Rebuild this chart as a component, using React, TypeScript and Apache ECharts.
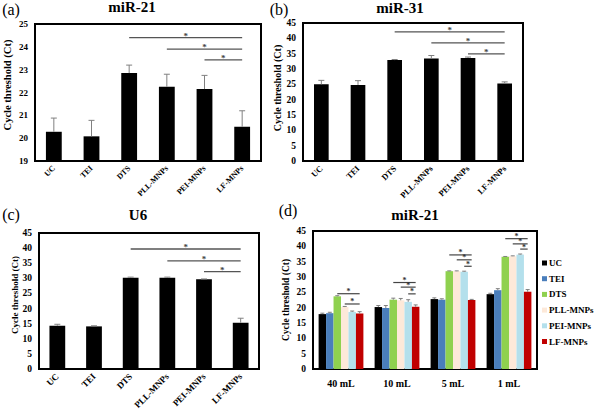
import React, { useEffect, useRef } from "react";
import * as echarts from "echarts";

// ---------- data ----------
const treatments = ["UC", "TEI", "DTS", "PLL-MNPs", "PEI-MNPs", "LF-MNPs"];

// (a) miR-21
const miR21Values = [20.28, 20.08, 22.85, 22.25, 22.15, 20.5];
const miR21Errors = [0.6, 0.7, 0.35, 0.55, 0.6, 0.7];
// (b) miR-31
const miR31Values = [25.0, 24.8, 32.9, 33.4, 33.6, 25.3];
const miR31Errors = [1.3, 1.4, 0.2, 1.0, 0.3, 0.5];
// (c) U6
const u6Values = [14.3, 14.1, 30.2, 30.2, 29.7, 15.3];
const u6Errors = [0.5, 0.2, 0.2, 0.2, 0.1, 1.5];

// (d) miR-21 by volume
const volumes = ["40 mL", "10 mL", "5 mL", "1 mL"];
const dUC = [17.9, 20.2, 22.8, 24.4];
const dTEI = [18.2, 19.9, 22.6, 25.7];
const dDTS = [23.7, 22.6, 31.9, 36.6];
const dPLL = [20.2, 22.4, 31.9, 36.8];
const dPEI = [18.6, 21.9, 31.7, 37.3];
const dLF = [18.1, 20.3, 22.5, 25.2];
const dUCErr = [0.3, 0.5, 0.4, 0.3];
const dTEIErr = [0.3, 0.8, 0.3, 0.5];
const dDTSErr = [0.2, 0.5, 0.1, 0.1];
const dPLLErr = [0.2, 0.6, 0.1, 0.1];
const dPEIErr = [0.3, 0.7, 0.2, 0.2];
const dLFErr = [0.6, 0.6, 0.2, 0.7];

// significance brackets: [fromIndex, toIndex, yValue]
const sigA = [[2, 5, 24.4], [3, 5, 23.9], [4, 5, 23.43]];
const sigB = [[2, 5, 42.1], [3, 5, 38.5], [4, 5, 34.9]];
const sigC = [[2, 5, 39.7], [3, 5, 35.8], [4, 5, 32.2]];
// (d): [volumeIndex, fromTreatment, toTreatment, yValue]
const sigD = [
  [0, 2, 5, 24.55], [0, 3, 5, 21.2],
  [1, 2, 5, 28.2], [1, 3, 5, 26.7], [1, 4, 5, 24.5],
  [2, 2, 5, 37.2], [2, 3, 5, 35.6], [2, 4, 5, 33.5],
  [3, 2, 5, 42.5], [3, 3, 5, 40.8], [3, 4, 5, 39.1],
];

const yTicksA = [19, 20, 21, 22, 23, 24, 25];
const yTicksB = [0, 5, 10, 15, 20, 25, 30, 35, 40, 45];

const dColors = ["#000000", "#4a7ebb", "#8fd14f", "#fde9d9", "#b4e0ec", "#c00000"];

const SERIF = "'Liberation Serif', 'Times New Roman', serif";

export default function App() {
  const ref = useRef<HTMLDivElement>(null);
  useEffect(() => {
    document.body.style.margin = "0";
    if (!ref.current) return;
    const chart = echarts.init(ref.current, null, { renderer: "svg" });

    const dValues = [dUC, dTEI, dDTS, dPLL, dPEI, dLF];
    const dErrors = [dUCErr, dTEIErr, dDTSErr, dPLLErr, dPEIErr, dLFErr];
    const GROUP_FRAC = 0.8;

    const grids = [
      { left: 35, top: 24, width: 226, height: 137 },
      { left: 303, top: 23, width: 220, height: 138 },
      { left: 39, top: 233, width: 220, height: 136 },
      { left: 313, top: 231, width: 224, height: 138 },
    ].map((g) => ({ ...g, show: true, borderColor: "#000", borderWidth: 2, containLabel: false }));

    const catAxis = (i: number, data: string[], rotate: boolean, fs: number) => ({
      type: "category",
      gridIndex: i,
      data,
      axisLine: { show: false },
      axisTick: { show: false },
      axisLabel: {
        rotate: rotate ? 45 : 0,
        margin: rotate ? 6 : 9,
        interval: 0,
        fontFamily: SERIF,
        fontWeight: "bold",
        fontSize: fs,
        color: "#000",
      },
    });
    const valAxis = (i: number, ticks: number[], fs: number) => ({
      type: "value",
      gridIndex: i,
      min: ticks[0],
      max: ticks[ticks.length - 1],
      interval: ticks[1] - ticks[0],
      axisLine: { show: false },
      axisTick: { show: false },
      splitLine: { show: false },
      axisLabel: { margin: 7, fontFamily: SERIF, fontWeight: "bold", fontSize: fs, color: "#000" },
    });

    const errRender = (color: string, cap: number) => (params: any, api: any) => {
      const v = api.value(1);
      const e = api.value(2);
      const p0 = api.coord([api.value(0), v]);
      const p1 = api.coord([api.value(0), v + e]);
      return {
        type: "group",
        children: [
          { type: "line", shape: { x1: p0[0], y1: p0[1], x2: p1[0], y2: p1[1] }, style: { stroke: color, lineWidth: 1 } },
          { type: "line", shape: { x1: p1[0] - cap, y1: p1[1], x2: p1[0] + cap, y2: p1[1] }, style: { stroke: color, lineWidth: 1 } },
        ],
      };
    };

    const sigRender = (params: any, api: any) => {
      const y = api.value(2);
      const p1 = api.coord([api.value(0), y]);
      const p2 = api.coord([api.value(1), y]);
      return {
        type: "group",
        children: [
          { type: "line", shape: { x1: p1[0], y1: p1[1], x2: p2[0], y2: p2[1] }, style: { stroke: "#555", lineWidth: 1.3 } },
          {
            type: "text",
            style: { text: "*", x: (p1[0] + p2[0]) / 2, y: p1[1] - 2, align: "center", verticalAlign: "middle", fill: "#444", font: `bold 9px ${SERIF}` },
          },
        ],
      };
    };

    const offsetX = (api: any, group: number, k: number) => {
      const c = api.coord([group, 0])[0];
      const band = api.size([1, 0])[0];
      const gw = band * GROUP_FRAC;
      const bw = gw / 6;
      return c - gw / 2 + bw * (k + 0.5);
    };

    const panelSeries = (i: number, name: string, values: number[], errors: number[], sig: number[][], barW: string) => [
      {
        type: "bar",
        name,
        xAxisIndex: i,
        yAxisIndex: i,
        data: values,
        barWidth: barW,
        itemStyle: { color: "#000" },
      },
      {
        type: "custom",
        xAxisIndex: i,
        yAxisIndex: i,
        renderItem: errRender("#808080", 3),
        data: values.map((v, j) => [j, v, errors[j]]),
        encode: { x: 0, y: 1 },
        z: 3,
      },
      {
        type: "custom",
        xAxisIndex: i,
        yAxisIndex: i,
        renderItem: sigRender,
        data: sig,
        encode: { x: [0, 1], y: 2 },
        z: 4,
      },
    ];

    const dBars = treatments.map((t, k) => ({
      type: "bar",
      name: t,
      xAxisIndex: 3,
      yAxisIndex: 3,
      data: dValues[k],
      barGap: "0%",
      barCategoryGap: "20%",
      itemStyle: { color: dColors[k] },
    }));

    const dErrData: number[][] = [];
    dValues.forEach((vals, k) => vals.forEach((v, g) => dErrData.push([g, k, v, dErrors[k][g]])));

    const dErrSeries = {
      type: "custom",
      xAxisIndex: 3,
      yAxisIndex: 3,
      data: dErrData,
      encode: { x: 0, y: 2 },
      z: 3,
      renderItem: (params: any, api: any) => {
        const x = offsetX(api, api.value(0), api.value(1));
        const v = api.value(2);
        const e = api.value(3);
        const y0 = api.coord([api.value(0), v])[1];
        const y1 = api.coord([api.value(0), v + e])[1];
        return {
          type: "group",
          children: [
            { type: "line", shape: { x1: x, y1: y0, x2: x, y2: y1 }, style: { stroke: "#808080", lineWidth: 1 } },
            { type: "line", shape: { x1: x - 2, y1: y1, x2: x + 2, y2: y1 }, style: { stroke: "#808080", lineWidth: 1 } },
          ],
        };
      },
    };

    const dSigSeries = {
      type: "custom",
      xAxisIndex: 3,
      yAxisIndex: 3,
      data: sigD,
      encode: { x: 0, y: 3 },
      z: 4,
      renderItem: (params: any, api: any) => {
        const g = api.value(0);
        const x1 = offsetX(api, g, api.value(1));
        const x2 = offsetX(api, g, api.value(2));
        const y = api.coord([g, api.value(3)])[1];
        return {
          type: "group",
          children: [
            { type: "line", shape: { x1, y1: y, x2, y2: y }, style: { stroke: "#444", lineWidth: 1.2 } },
            {
              type: "text",
              style: { text: "*", x: (x1 + x2) / 2, y: y - 2, align: "center", verticalAlign: "middle", fill: "#333", font: `bold 8px ${SERIF}` },
            },
          ],
        };
      },
    };

    const txt = (text: string, x: number, y: number, font: string, extra: any = {}) => ({
      type: "text",
      x,
      y,
      ...extra,
      style: { text, font, fill: "#000", align: "center", verticalAlign: "middle", ...(extra.style || {}) },
    });

    const option: any = {
      animation: false,
      backgroundColor: "#fff",
      grid: grids,
      xAxis: [
        catAxis(0, treatments, true, 8),
        catAxis(1, treatments, true, 8.5),
        catAxis(2, treatments, true, 9),
        catAxis(3, volumes, false, 10),
      ],
      yAxis: [valAxis(0, yTicksA, 9), valAxis(1, yTicksB, 9.5), valAxis(2, yTicksB, 9.5), valAxis(3, yTicksB, 9.5)],
      legend: {
        data: treatments,
        orient: "vertical",
        left: 542,
        top: 257,
        padding: 0,
        icon: "rect",
        itemWidth: 5,
        itemHeight: 5,
        itemGap: 3.7,
        selectedMode: false,
        textStyle: { fontFamily: SERIF, fontWeight: "bold", fontSize: 9, lineHeight: 12, color: "#000", padding: [0, 0, 0, -3] },
      },
      series: [
        ...panelSeries(0, "miR-21 (a)", miR21Values, miR21Errors, sigA, "42%"),
        ...panelSeries(1, "miR-31 (b)", miR31Values, miR31Errors, sigB, "40%"),
        ...panelSeries(2, "U6 (c)", u6Values, u6Errors, sigC, "43%"),
        ...dBars,
        dErrSeries,
        dSigSeries,
      ],
      graphic: [
        txt("(a)", 11, 9, `16px ${SERIF}`),
        txt("(b)", 279, 9, `16px ${SERIF}`),
        txt("(c)", 11, 214, `16px ${SERIF}`),
        txt("(d)", 288, 210, `16px ${SERIF}`),
        txt("miR-21", 132, 7, `bold 15px ${SERIF}`),
        txt("miR-31", 400, 8, `bold 15px ${SERIF}`),
        txt("U6", 138, 215, `bold 15px ${SERIF}`),
        txt("miR-21", 415, 215, `bold 15px ${SERIF}`),
        txt("Cycle threshold (Ct)", 7, 85, `bold 10.5px ${SERIF}`, { rotation: Math.PI / 2 }),
        txt("Cycle threshold (Ct)", 277, 88, `bold 10px ${SERIF}`, { rotation: Math.PI / 2 }),
        txt("Cycle threshold (Ct)", 15, 295, `bold 9px ${SERIF}`, { rotation: Math.PI / 2 }),
        txt("Cycle threshold (Ct)", 286, 300, `bold 9.5px ${SERIF}`, { rotation: Math.PI / 2 }),
      ],
    };

    chart.setOption(option);
    return () => chart.dispose();
  }, []);

  return <div ref={ref} style={{ width: 600, height: 415 }} />;
}
